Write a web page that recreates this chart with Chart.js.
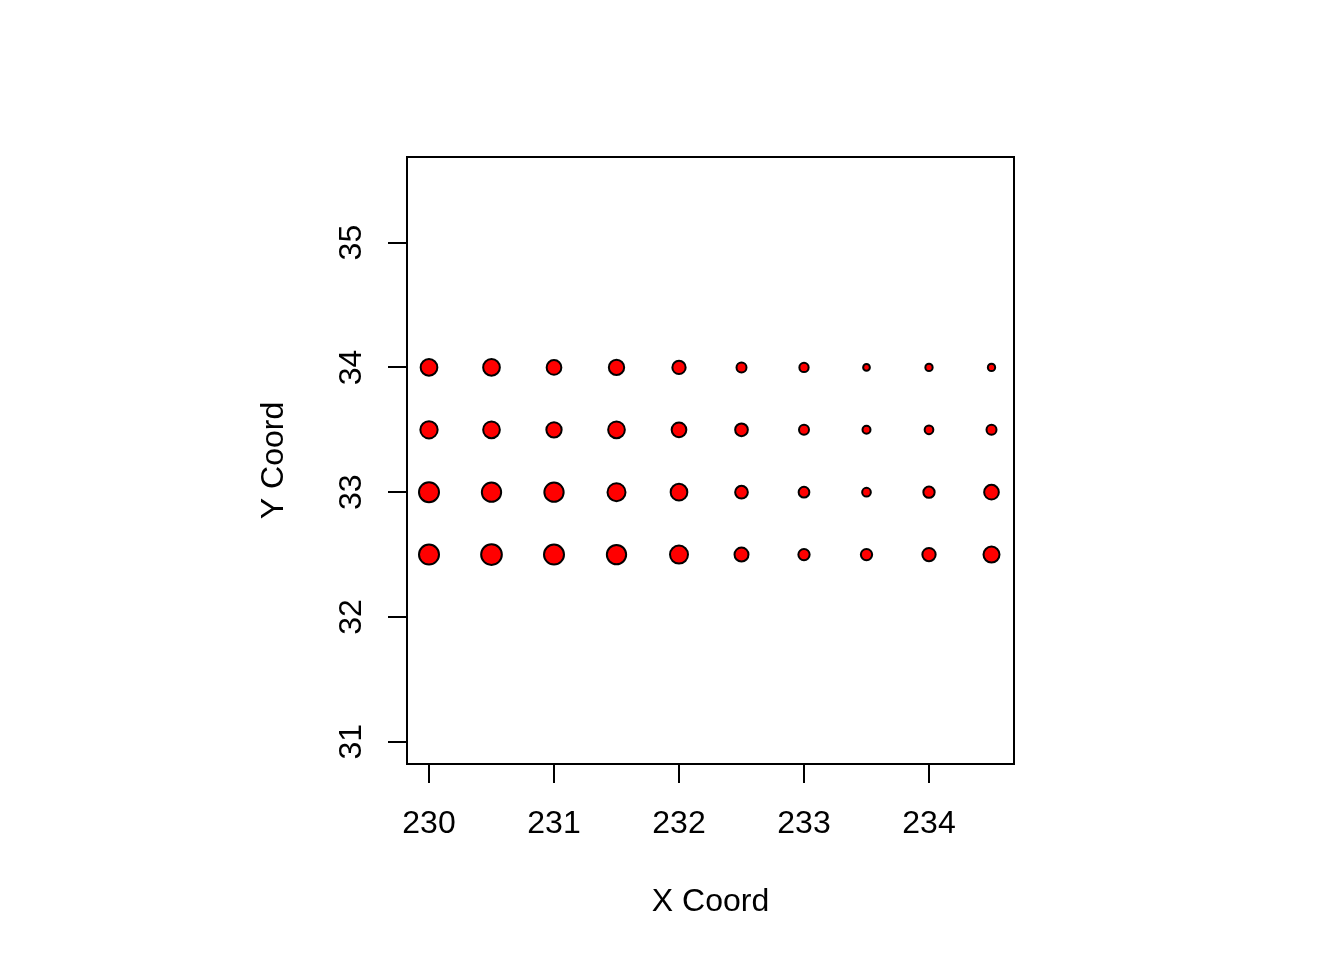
<!DOCTYPE html>
<html>
<head>
<meta charset="utf-8">
<script src="https://cdn.jsdelivr.net/npm/chart.js@4/dist/chart.umd.min.js"></script>
<style>
  html, body { margin: 0; padding: 0; background: #ffffff; }
  #wrap { width: 1344px; height: 960px; }
</style>
</head>
<body>
<div id="wrap"><canvas id="c" width="1344" height="960"></canvas></div>
<script>
// ---- data ----
const xCoords = [230, 230.5, 231, 231.5, 232, 232.5, 233, 233.5, 234, 234.5];
const yRows = [34, 33.5, 33, 32.5];
// magnitude of each point (bubble size), one array per row of yRows
const magRow34   = [1.87, 1.87, 1.67, 1.73, 1.53, 1.20, 1.13, 0.87, 0.93, 0.93];
const magRow33_5 = [1.93, 1.87, 1.73, 1.87, 1.67, 1.47, 1.20, 1.00, 1.07, 1.20];
const magRow33   = [2.20, 2.13, 2.13, 2.00, 1.87, 1.47, 1.27, 1.07, 1.33, 1.67];
const magRow32_5 = [2.20, 2.27, 2.20, 2.13, 2.00, 1.60, 1.33, 1.33, 1.53, 1.80];
const xTickValues = [230, 231, 232, 233, 234];
const yTickValues = [31, 32, 33, 34, 35];
const xTitle = 'X Coord';
const yTitle = 'Y Coord';

// ---- build ----
const magRows = [magRow34, magRow33_5, magRow33, magRow32_5];
const FONT = '"Liberation Sans", Arial, Helvetica, sans-serif';
const FONT_SIZE = 32;
const TICK_LEN = 19;

const datasets = yRows.map((yv, i) => ({
  label: String(yv),
  data: xCoords.map((xv, j) => ({ x: xv, y: yv, m: magRows[i][j] })),
  backgroundColor: '#ff0000',
  borderColor: '#000000',
  borderWidth: 2,
  pointRadius: ctx => {
    const raw = ctx.raw;
    return raw ? raw.m * 5 - 1 : 3;
  },
  pointHoverRadius: ctx => {
    const raw = ctx.raw;
    return raw ? raw.m * 5 - 1 : 3;
  },
  showLine: false
}));

const boxAndYLabels = {
  id: 'boxAndYLabels',
  afterDraw(chart) {
    const { ctx, chartArea } = chart;
    ctx.save();
    ctx.strokeStyle = '#000000';
    ctx.lineWidth = 2;
    ctx.strokeRect(chartArea.left, chartArea.top,
                   chartArea.right - chartArea.left, chartArea.bottom - chartArea.top);
    const ys = chart.scales.y;
    ctx.fillStyle = '#000000';
    ctx.font = FONT_SIZE + 'px ' + FONT;
    ctx.textAlign = 'center';
    ctx.textBaseline = 'middle';
    const lx = chartArea.left - TICK_LEN - 35.5;
    ys.ticks.forEach(t => {
      const py = ys.getPixelForValue(t.value);
      ctx.save();
      ctx.translate(lx, py);
      ctx.rotate(-Math.PI / 2);
      ctx.fillText(String(t.value), 0, 0);
      ctx.restore();
    });
    ctx.restore();
  }
};

new Chart(document.getElementById('c'), {
  type: 'scatter',
  data: { datasets },
  options: {
    responsive: false,
    devicePixelRatio: 1,
    animation: false,
    layout: { padding: { left: 0, top: 157, right: 330, bottom: 0 } },
    plugins: { legend: { display: false }, tooltip: { enabled: false } },
    scales: {
      x: {
        type: 'linear',
        position: 'bottom',
        min: 229.824,
        max: 234.68,
        afterBuildTicks: s => { s.ticks = xTickValues.map(v => ({ value: v })); },
        afterFit: s => { s.height = 196; },
        border: { display: false },
        grid: { display: true, drawOnChartArea: false, drawTicks: true,
                tickLength: TICK_LEN, lineWidth: 2, color: '#000000' },
        ticks: { color: '#000000', padding: 22, maxRotation: 0, minRotation: 0,
                 autoSkip: false, font: { family: FONT, size: FONT_SIZE },
                 callback: v => String(v) },
        title: { display: true, text: xTitle, color: '#000000',
                 font: { family: FONT, size: FONT_SIZE },
                 padding: { top: 0, bottom: 39 } }
      },
      y: {
        type: 'linear',
        position: 'left',
        min: 30.822,
        max: 35.686,
        afterBuildTicks: s => { s.ticks = yTickValues.map(v => ({ value: v })); },
        afterFit: s => { s.width = 407; },
        border: { display: false },
        grid: { display: true, drawOnChartArea: false, drawTicks: true,
                tickLength: TICK_LEN, lineWidth: 2, color: '#000000' },
        ticks: { display: false },
        title: { display: true, text: yTitle, color: '#000000',
                 font: { family: FONT, size: FONT_SIZE },
                 padding: { top: 255, bottom: 0 } }
      }
    }
  },
  plugins: [boxAndYLabels]
});
</script>
</body>
</html>
